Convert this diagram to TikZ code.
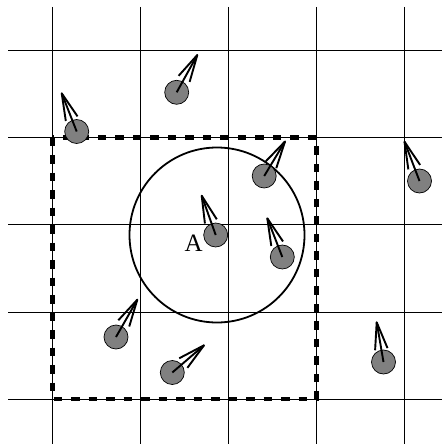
\documentclass[tikz,border=0pt]{standalone}
\usepackage{fontspec}
\setmainfont{Liberation Serif}
\usetikzlibrary{calc}
\definecolor{ballgray}{HTML}{808080}
\begin{document}
\begin{tikzpicture}[x=1pt,y=-1pt,
  gridline/.style={line width=0.9pt},
  zonebox/.style={line width=4.6pt, dash pattern=on 8.5pt off 9pt},
  zonecircle/.style={circle, draw, line width=1.8pt, minimum size=175pt, inner sep=0pt},
  ball/.style={circle, draw, fill=ballgray, line width=0.7pt, minimum size=24pt, inner sep=0pt},
  vec/.style={line width=1.9pt, line join=round}
]
\useasboundingbox (0,0) rectangle (442,444);
% grid
\foreach \y in {50.7,137.7,224.5,312,399} \draw[gridline] (8,\y) -- (442,\y);
\foreach \x in {52.3,140.3,228.3,316.7,404} \draw[gridline] (\x,7) -- (\x,444);
% dashed zone
\draw[zonebox] (52.3,137.7) rectangle (316.7,399);
% circle
\node[zonecircle] (zc) at (217,235) {};
% balls
\node[ball] (b1) at (76.7,131.5) {};
\node[ball] (b2) at (176.7,92.3) {};
\node[ball] (b3) at (264.2,176) {};
\node[ball] (b4) at (419.5,181) {};
\node[ball] (bA) at (215.7,235) {};
\node[ball] (b6) at (282.3,257) {};
\node[ball] (b7) at (116,337) {};
\node[ball] (b8) at (172.3,372.5) {};
\node[ball] (b9) at (383.5,362) {};
% tips
\coordinate (t1) at (61.7,93.3);
\coordinate (t2) at (197.3,55);
\coordinate (t3) at (285,141.5);
\coordinate (t4) at (404.5,141.7);
\coordinate (tA) at (201.7,195.7);
\coordinate (t6) at (267.3,218.3);
\coordinate (t7) at (137.3,299.7);
\coordinate (t8) at (204,345.3);
\coordinate (t9) at (376.7,322.3);
% vectors: shaft plus two open barbs
\foreach \i in {1,2,3,4,A,6,7,8,9} {
  \draw[vec] (b\i.center) -- (t\i);
  \draw[vec] ($(t\i)!28pt!13:(b\i.center)$) -- (t\i) -- ($(t\i)!28pt!-13:(b\i.center)$);
}
% label
\node[font=\fontsize{25}{25}\selectfont, inner sep=0pt] (lA) at (193.7,243.5) {A};
\end{tikzpicture}
\end{document}
